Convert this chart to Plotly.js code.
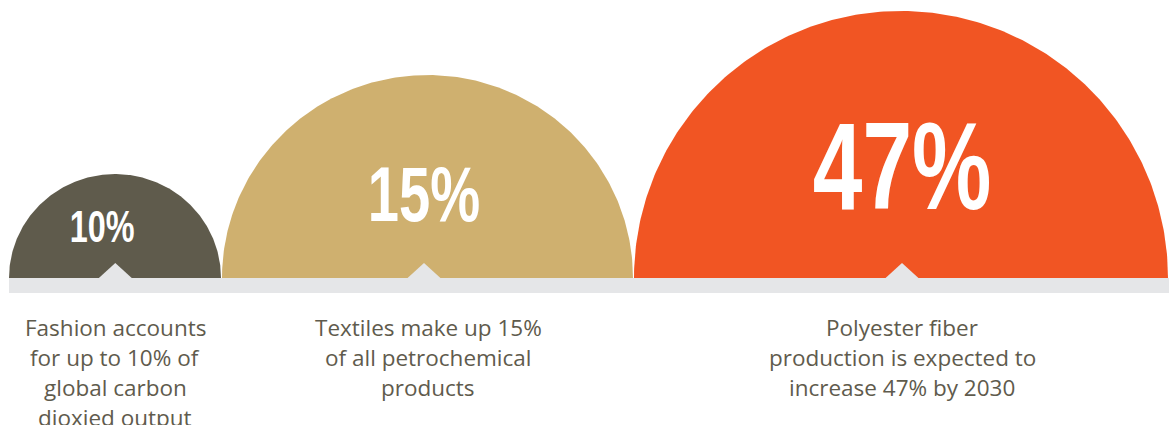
<!DOCTYPE html>
<html>
<head>
<meta charset="utf-8">
<script src="https://cdn.plot.ly/plotly-3.0.1.min.js"></script>
<style>
  html, body { margin: 0; padding: 0; background: #ffffff; }
  #chart { width: 1169px; height: 425px; }
</style>
</head>
<body>
<div id="chart"></div>
<script>
// ---- data ----
const categories = ['Fashion', 'Textiles', 'Polyester fiber'];
const values = [10, 15, 47];
const valueLabels = ['10%', '15%', '47%'];
const descriptions = [
  ['Fashion accounts', 'for up to 10% of', 'global carbon', 'dioxied output'],
  ['Textiles make up 15%', 'of all petrochemical', 'products'],
  ['Polyester fiber', 'production is expected to', 'increase 47% by 2030']
];

// ---- layout / style (pixel space) ----
const W = 1169, H = 425;
const baseY = 278;
const bandBottom = 293;
const bandLeft = 9;
const centersX = [115, 427.5, 901];
const radiiX = [106, 205.5, 267];
const radiiY = [104, 203, 267];
const notchX = [115.3, 424, 902];
const labelX = [102, 424, 902];
const labelY = [226.5, 193.5, 165.5];
const labelSize = [45, 78, 124];
const labelSqueeze = 0.72;
const descX = [115, 428, 902];
const descFirstY = 327;
const descLineGap = 30;
const descSize = 22.5;
const colors = ['#5f5b4c', '#cfb06f', '#f15523'];
const bandColor = '#e5e6e8';
const textColor = '#5f5b4d';

const traces = categories.map((name, i) => {
  const xs = [], ys = [];
  const n = 240;
  for (let k = 0; k <= n; k++) {
    const t = Math.PI * k / n;
    xs.push(centersX[i] + radiiX[i] * Math.cos(t));
    ys.push(baseY - radiiY[i] * Math.sin(t));
  }
  return {
    type: 'scatter', mode: 'lines', name: name + ' ' + values[i] + '%',
    x: xs, y: ys, fill: 'toself', fillcolor: colors[i],
    line: { width: 0, color: colors[i] }, hoverinfo: 'skip', showlegend: false
  };
});

const shapes = [
  { type: 'rect', xref: 'x', yref: 'y', x0: bandLeft, x1: W, y0: baseY, y1: bandBottom,
    fillcolor: bandColor, line: { width: 0 }, layer: 'above' }
];
notchX.forEach(cx => {
  shapes.push({
    type: 'path', xref: 'x', yref: 'y',
    path: `M ${cx - 17} ${baseY + 0.5} L ${cx} ${baseY - 15} L ${cx + 17} ${baseY + 0.5} Z`,
    fillcolor: bandColor, line: { width: 0 }, layer: 'above'
  });
});

const annotations = [];
valueLabels.forEach((lab, i) => {
  annotations.push({
    x: labelX[i], y: labelY[i], xref: 'x', yref: 'y', text: lab, showarrow: false,
    xanchor: 'center', yanchor: 'middle',
    font: { family: 'Liberation Sans, Arial, sans-serif', size: labelSize[i], color: '#ffffff', weight: 'bold' }
  });
});
descriptions.forEach((lines, i) => {
  lines.forEach((line, j) => {
    annotations.push({
      x: descX[i], y: descFirstY + j * descLineGap, xref: 'x', yref: 'y', text: line,
      showarrow: false, xanchor: 'center', yanchor: 'middle',
      font: { family: 'Open Sans, sans-serif', size: descSize, color: textColor }
    });
  });
});

const layout = {
  width: W, height: H,
  margin: { l: 0, r: 0, t: 0, b: 0, pad: 0 },
  paper_bgcolor: '#ffffff', plot_bgcolor: '#ffffff',
  xaxis: { range: [0, W], visible: false, fixedrange: true },
  yaxis: { range: [H, 0], visible: false, fixedrange: true },
  shapes: shapes,
  annotations: annotations,
  showlegend: false
};

Plotly.newPlot('chart', traces, layout, { displayModeBar: false, staticPlot: true }).then(gd => {
  // condense the big percentage labels horizontally (narrow display face)
  const anns = gd.querySelectorAll('.annotation');
  anns.forEach(a => {
    const idx = +a.getAttribute('data-index');
    if (idx < valueLabels.length) {
      const t = a.querySelector('text.annotation-text');
      if (!t) return;
      const bb = t.getBBox();
      const cx = bb.x + bb.width / 2;
      const prev = t.getAttribute('transform') || '';
      t.setAttribute('transform', `translate(${cx},0) scale(${labelSqueeze},1) translate(${-cx},0) ${prev}`);
    }
  });
});
</script>
</body>
</html>
